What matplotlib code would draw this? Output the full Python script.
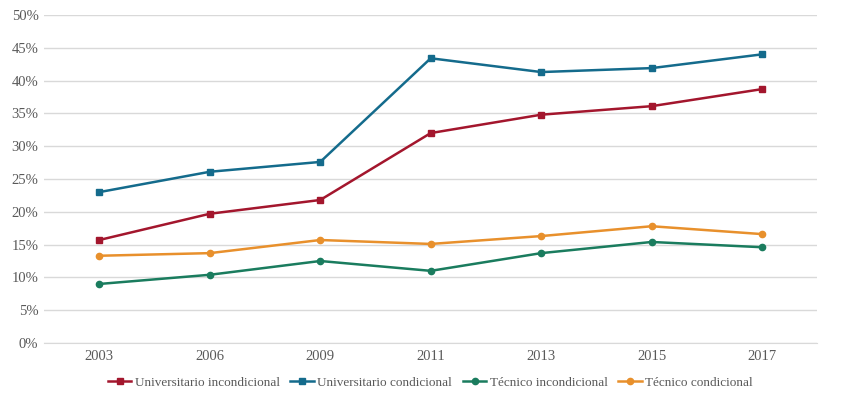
import matplotlib
matplotlib.use("Agg")
import matplotlib.pyplot as plt
from matplotlib.ticker import FuncFormatter

years = ["2003", "2006", "2009", "2011", "2013", "2015", "2017"]
univ_incond = [15.7, 19.7, 21.8, 32.0, 34.8, 36.1, 38.7]
univ_cond = [23.0, 26.1, 27.6, 43.4, 41.3, 41.9, 44.0]
tec_incond = [9.0, 10.4, 12.5, 11.0, 13.7, 15.4, 14.6]
tec_cond = [13.3, 13.7, 15.7, 15.1, 16.3, 17.8, 16.6]

plt.rcParams['font.family'] = ['Liberation Serif', 'DejaVu Serif']
text_col = "#595959"

fig = plt.figure(figsize=(8.47, 3.94), dpi=100)
ax = fig.add_axes([0.052, 0.1294, 0.913, 0.8326])

x = range(len(years))
ax.plot(x, univ_incond, color="#a3162d", lw=1.8, marker="s", ms=5, label="Universitario incondicional")
ax.plot(x, univ_cond, color="#146b8c", lw=1.8, marker="s", ms=5, label="Universitario condicional")
ax.plot(x, tec_incond, color="#1a7c5e", lw=1.8, marker="o", ms=4.5, label="Técnico incondicional")
ax.plot(x, tec_cond, color="#e8902c", lw=1.8, marker="o", ms=4.5, label="Técnico condicional")

ax.set_xlim(-0.5, len(years) - 0.5)
ax.set_ylim(0, 50)
ax.set_yticks(range(0, 51, 5))
ax.yaxis.set_major_formatter(FuncFormatter(lambda v, p: f"{int(v)}%"))
ax.set_xticks(list(x))
ax.set_xticklabels(years)
ax.grid(axis="y", color="#d9d9d9", lw=1)
ax.set_axisbelow(True)
for s in ["top", "right", "left"]:
    ax.spines[s].set_visible(False)
ax.spines["bottom"].set_color("#d9d9d9")
ax.tick_params(axis="both", length=0, labelsize=10.5, colors=text_col)
ax.tick_params(axis="x", pad=5)
ax.tick_params(axis="y", pad=4)

leg = fig.legend(loc="center", bbox_to_anchor=(0.508, 0.028), ncol=4, frameon=False,
                 fontsize=9.5, handlelength=1.8, handletextpad=0.25, columnspacing=0.8)
for t in leg.get_texts():
    t.set_color(text_col)

fig.savefig("out.png", dpi=100)
